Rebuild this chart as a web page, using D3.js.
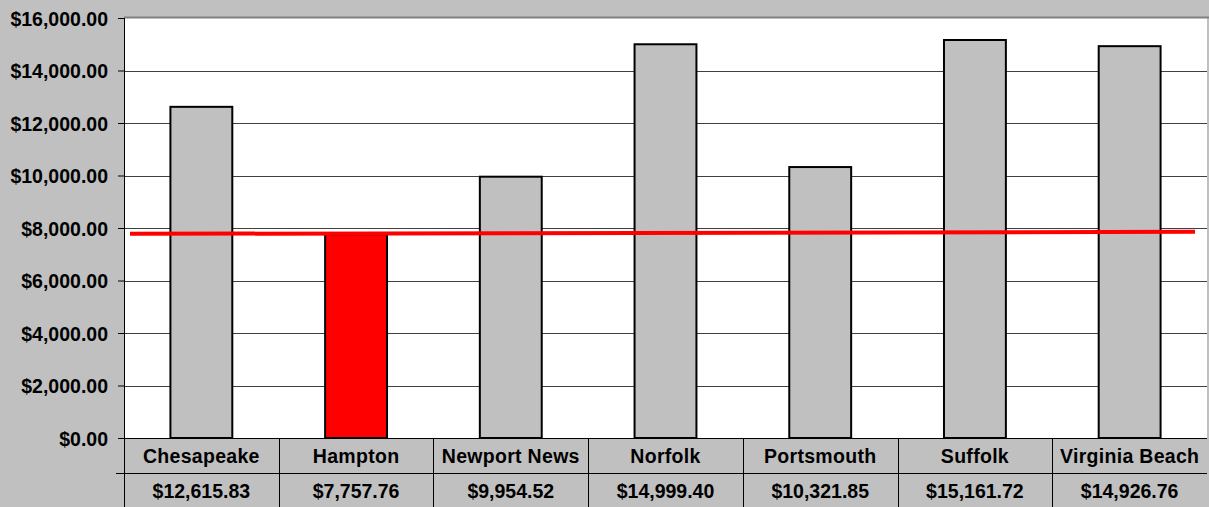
<!DOCTYPE html>
<html>
<head>
<meta charset="utf-8">
<script src="https://cdn.jsdelivr.net/npm/d3@7"></script>
<style>
  body { margin: 0; background: #c0c0c0; }
  svg { display: block; }
  svg text { font-family: "Liberation Sans", Arial, sans-serif; font-size: 19.5px; font-weight: bold; fill: #000; }
</style>
</head>
<body>
<div id="root"></div>
<script>
const WIDTH = 1209;
const HEIGHT = 507;
const margin = { left: 124, right: 2, top: 18, bottom: 69 };

const cities = ['Chesapeake', 'Hampton', 'Newport News', 'Norfolk', 'Portsmouth', 'Suffolk', 'Virginia Beach'];
const amounts = [12615.83, 7757.76, 9954.52, 14999.40, 10321.85, 15161.72, 14926.76];
const highlight = 'Hampton';
const yTicks = [0, 2000, 4000, 6000, 8000, 10000, 12000, 14000, 16000];

const innerW = WIDTH - margin.left - margin.right;
const innerH = HEIGHT - margin.top - margin.bottom;
const rowH = 35;

const x = d3.scaleBand().domain(cities).range([0, innerW]).paddingInner(0).paddingOuter(0);
const y = d3.scaleLinear().domain([0, 16000]).range([innerH, 0]);
const money = d3.format('$,.2f');

const svg = d3.select('#root').append('svg')
    .attr('width', WIDTH)
    .attr('height', HEIGHT)
  .append('g')
    .attr('transform', `translate(${margin.left}, ${margin.top})`);

// plot area
svg.append('rect')
    .attr('width', innerW)
    .attr('height', innerH)
    .attr('fill', '#fff');

svg.append('line')
    .attr('x1', 0).attr('x2', innerW + margin.right)
    .attr('y1', -0.5).attr('y2', -0.5)
    .attr('stroke', '#808080')
    .attr('stroke-width', 2);

// gridlines
svg.append('g')
    .selectAll('line')
    .data(yTicks.slice(1, -1))
  .enter().append('line')
    .attr('x1', 0).attr('x2', innerW)
    .attr('y1', d => Math.round(y(d)) + 0.5)
    .attr('y2', d => Math.round(y(d)) + 0.5)
    .attr('stroke', '#404040');

// bars
svg.selectAll('.bar')
    .data(cities)
  .enter().append('rect')
    .attr('class', 'bar')
    .attr('x', d => x(d) + x.bandwidth() * 0.3)
    .attr('width', x.bandwidth() * 0.4)
    .attr('y', (d, i) => y(amounts[i]))
    .attr('height', (d, i) => innerH - y(amounts[i]))
    .attr('fill', d => d === highlight ? '#ff0000' : '#c0c0c0')
    .attr('stroke', '#000')
    .attr('stroke-width', 2);

// reference line at Hampton value
const refVal = amounts[cities.indexOf(highlight)];
svg.append('line')
    .attr('x1', x.range()[0] + 6)
    .attr('x2', x.range()[1] - 12)
    .attr('y1', y(refVal) - 0.5)
    .attr('y2', y(refVal) - 2.5)
    .attr('stroke', '#ff0000')
    .attr('stroke-width', 4);

// y axis
const yAxis = d3.axisLeft(y)
    .tickValues(yTicks)
    .tickFormat(money)
    .tickSize(6)
    .tickPadding(10);

svg.append('g')
    .attr('class', 'axis axis--y')
    .call(yAxis)
    .attr('font-size', null)
    .attr('font-family', null)
    .call(g => g.select('.domain').remove())
    .call(g => g.selectAll('.tick line').attr('stroke', '#000'))
    .call(g => g.selectAll('.tick text').attr('dy', '0.36em'));

svg.append('line')
    .attr('x1', 0.5).attr('x2', 0.5)
    .attr('y1', 0).attr('y2', innerH + rowH * 2 + 5)
    .attr('stroke', '#000');

// data table
const table = svg.append('g')
    .attr('transform', `translate(0, ${innerH})`);

table.append('line')
    .attr('x1', 0).attr('x2', innerW)
    .attr('y1', 0.5).attr('y2', 0.5)
    .attr('stroke', '#000');

table.append('line')
    .attr('x1', -8).attr('x2', innerW)
    .attr('y1', rowH + 0.5).attr('y2', rowH + 0.5)
    .attr('stroke', '#000');

table.selectAll('.sep')
    .data(cities.slice(1))
  .enter().append('line')
    .attr('class', 'sep')
    .attr('x1', d => Math.round(x(d)) + 0.5)
    .attr('x2', d => Math.round(x(d)) + 0.5)
    .attr('y1', 0).attr('y2', rowH * 2 + 5)
    .attr('stroke', '#000');

table.selectAll('.name')
    .data(cities)
  .enter().append('text')
    .attr('class', 'name')
    .attr('x', d => x(d) + x.bandwidth() / 2)
    .attr('y', rowH / 2)
    .attr('dy', '0.36em')
    .attr('text-anchor', 'middle')
    .style('letter-spacing', '0.3px')
    .text(d => d);

table.selectAll('.val')
    .data(cities)
  .enter().append('text')
    .attr('class', 'val')
    .attr('x', d => x(d) + x.bandwidth() / 2)
    .attr('y', rowH * 1.5)
    .attr('dy', '0.36em')
    .attr('text-anchor', 'middle')
    .text((d, i) => money(amounts[i]));
</script>
</body>
</html>
